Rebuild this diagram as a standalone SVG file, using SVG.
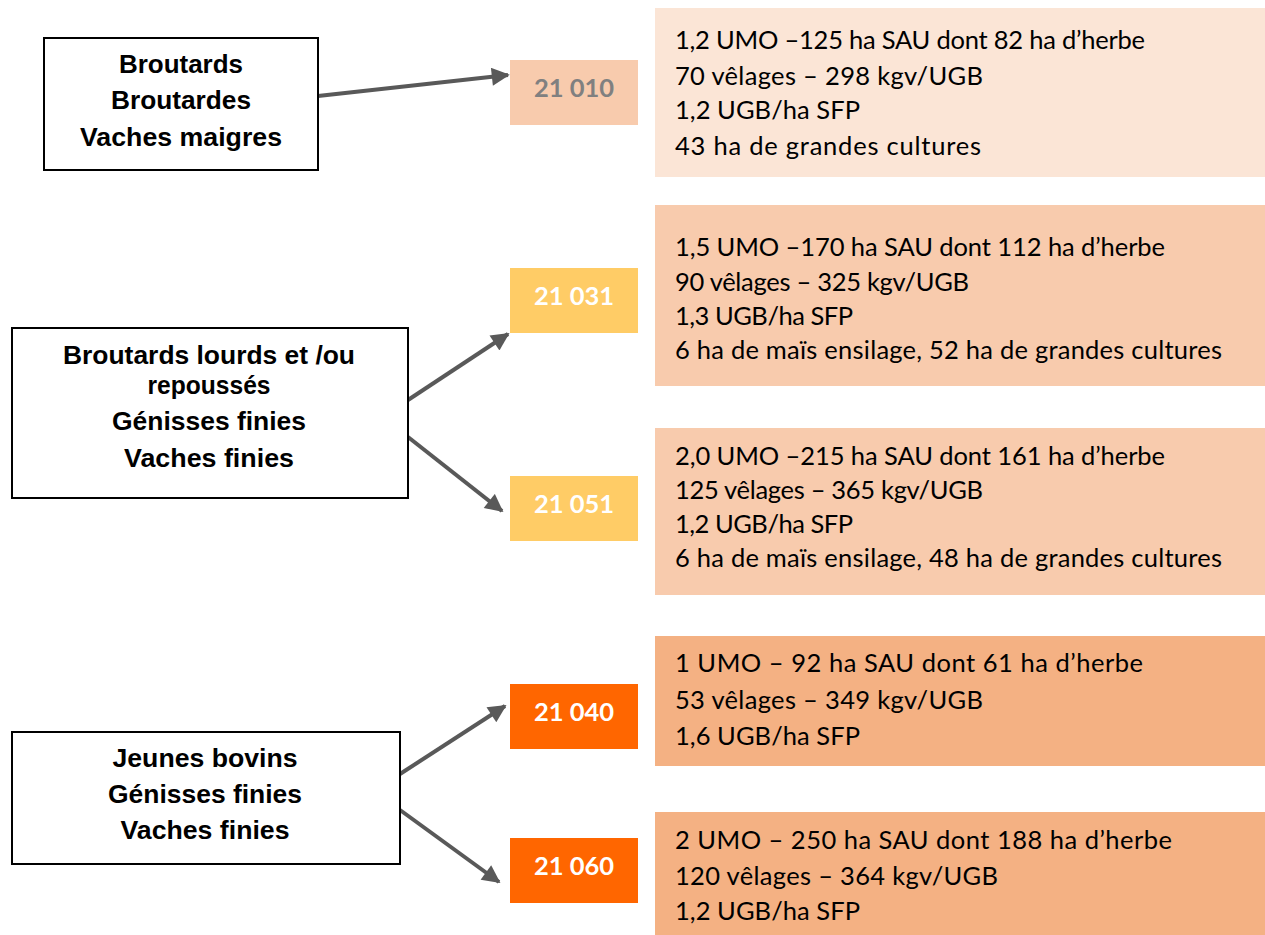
<svg xmlns="http://www.w3.org/2000/svg" width="1265" height="935" viewBox="0 0 1265 935">
<style>
.src{fill:#fff;stroke:#000;stroke-width:2}
.st{font-family:"Liberation Sans",Arial,sans-serif;font-weight:bold;font-size:25px;fill:#000;text-anchor:middle}
.code{font-family:Lato,"Open Sans",sans-serif;font-weight:bold;font-size:25.5px;text-anchor:middle;fill:#fff}
.info{font-family:Lato,"Open Sans",sans-serif;font-size:25.5px;fill:#000}
.conn{stroke:#595959;stroke-width:4;fill:none;marker-end:url(#ah)}
</style>
<defs>
<marker id="ah" viewBox="0 0 10 10" refX="9" refY="5" markerWidth="5" markerHeight="4.5" orient="auto" markerUnits="strokeWidth">
<path d="M0,0 L10,5 L0,10 z" fill="#595959"/>
</marker>
</defs>
<rect width="1265" height="935" fill="#fff"/>
<g id="connectors">
<line class="conn" x1="318" y1="96" x2="508" y2="75"/>
<line class="conn" x1="408" y1="400" x2="508" y2="334"/>
<line class="conn" x1="408" y1="437" x2="502" y2="511"/>
<line class="conn" x1="400" y1="774" x2="505" y2="706"/>
<line class="conn" x1="400" y1="810" x2="499" y2="882"/>
</g>
<g id="src1">
<rect class="src" x="44" y="38" width="274" height="132"/>
<text class="st" x="181" y="73" textLength="124" lengthAdjust="spacingAndGlyphs">Broutards</text>
<text class="st" x="181" y="109" textLength="140" lengthAdjust="spacingAndGlyphs">Broutardes</text>
<text class="st" x="181" y="146" textLength="202" lengthAdjust="spacingAndGlyphs">Vaches maigres</text>
</g>
<g id="src2">
<rect class="src" x="12" y="328" width="396" height="170"/>
<text class="st" x="209" y="364" textLength="292" lengthAdjust="spacingAndGlyphs">Broutards lourds et /ou</text>
<text class="st" x="209" y="394" textLength="123" lengthAdjust="spacingAndGlyphs">repoussés</text>
<text class="st" x="209" y="430" textLength="194" lengthAdjust="spacingAndGlyphs">Génisses finies</text>
<text class="st" x="209" y="467" textLength="170" lengthAdjust="spacingAndGlyphs">Vaches finies</text>
</g>
<g id="src3">
<rect class="src" x="12" y="732" width="388" height="132"/>
<text class="st" x="205" y="767" textLength="185" lengthAdjust="spacingAndGlyphs">Jeunes bovins</text>
<text class="st" x="205" y="803" textLength="194" lengthAdjust="spacingAndGlyphs">Génisses finies</text>
<text class="st" x="205" y="839" textLength="169" lengthAdjust="spacingAndGlyphs">Vaches finies</text>
</g>
<g id="c21010">
<rect x="510" y="60" width="128" height="65" fill="#f8cbad"/>
<text class="code" x="574" y="97" style="fill:#808080">21 010</text>
</g>
<g id="c21031">
<rect x="510" y="268" width="128" height="65" fill="#ffcc66"/>
<text class="code" x="574" y="305">21 031</text>
</g>
<g id="c21051">
<rect x="510" y="476" width="128" height="65" fill="#ffcc66"/>
<text class="code" x="574" y="513">21 051</text>
</g>
<g id="c21040">
<rect x="510" y="684" width="128" height="65" fill="#ff6600"/>
<text class="code" x="574" y="721">21 040</text>
</g>
<g id="c21060">
<rect x="510" y="838" width="128" height="65" fill="#ff6600"/>
<text class="code" x="574" y="875">21 060</text>
</g>
<g id="info1">
<rect x="655" y="8" width="610" height="169" fill="#fbe5d6"/>
<text class="info" x="675" y="49" textLength="470">1,2 UMO –125 ha SAU dont 82 ha d’herbe</text>
<text class="info" x="675" y="85" textLength="308">70 vêlages – 298 kgv/UGB</text>
<text class="info" x="675" y="119" textLength="185">1,2 UGB/ha SFP</text>
<text class="info" x="675" y="155" textLength="306">43 ha de grandes cultures</text>
</g>
<g id="info2">
<rect x="655" y="205" width="610" height="181" fill="#f8cbad"/>
<text class="info" x="675" y="256" textLength="490">1,5 UMO –170 ha SAU dont 112 ha d’herbe</text>
<text class="info" x="675" y="291" textLength="294">90 vêlages – 325 kgv/UGB</text>
<text class="info" x="675" y="325" textLength="178">1,3 UGB/ha SFP</text>
<text class="info" x="675" y="359" textLength="547">6 ha de maïs ensilage, 52 ha de grandes cultures</text>
</g>
<g id="info3">
<rect x="655" y="428" width="610" height="167" fill="#f8cbad"/>
<text class="info" x="675" y="465" textLength="490">2,0 UMO –215 ha SAU dont 161 ha d’herbe</text>
<text class="info" x="675" y="499" textLength="308">125 vêlages – 365 kgv/UGB</text>
<text class="info" x="675" y="533" textLength="178">1,2 UGB/ha SFP</text>
<text class="info" x="675" y="567" textLength="547">6 ha de maïs ensilage, 48 ha de grandes cultures</text>
</g>
<g id="info4">
<rect x="655" y="636" width="610" height="130" fill="#f4b183"/>
<text class="info" x="675" y="672" textLength="468">1 UMO – 92 ha SAU dont 61 ha d’herbe</text>
<text class="info" x="675" y="709" textLength="308">53 vêlages – 349 kgv/UGB</text>
<text class="info" x="675" y="745" textLength="185">1,6 UGB/ha SFP</text>
</g>
<g id="info5">
<rect x="655" y="812" width="610" height="123" fill="#f4b183"/>
<text class="info" x="675" y="849" textLength="497">2 UMO – 250 ha SAU dont 188 ha d’herbe</text>
<text class="info" x="675" y="885" textLength="323">120 vêlages – 364 kgv/UGB</text>
<text class="info" x="675" y="920" textLength="185">1,2 UGB/ha SFP</text>
</g>
</svg>
